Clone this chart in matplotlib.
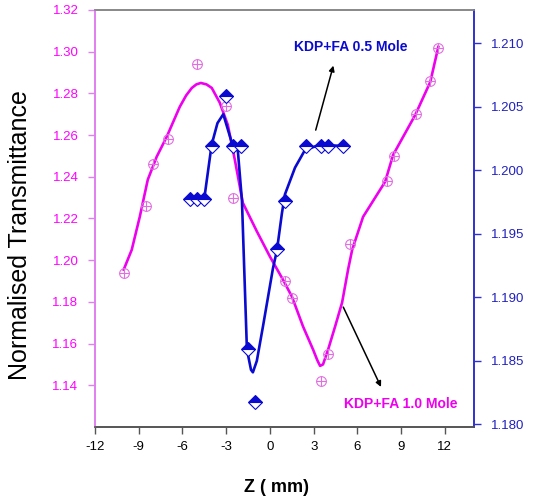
import matplotlib.pyplot as plt
import numpy as np

plt.rcParams['font.family'] = ['Liberation Sans', 'DejaVu Sans']
plt.rcParams['axes.unicode_minus'] = False

# KDP+FA 1.0 Mole (left axis) - measured points
z_10 = [-10.0, -8.5, -8.0, -7.0, -5.0, -3.0, -2.5, 1.0, 1.5, 3.5, 4.0, 5.5, 8.0, 8.5, 10.0, 11.0, 11.5]
t_10 = [1.194, 1.226, 1.246, 1.258, 1.294, 1.274, 1.230, 1.190, 1.182, 1.142, 1.155, 1.208,
        1.238, 1.250, 1.270, 1.286, 1.302]
# fitted curve
fit_z_10 = [-10.03, -9.48, -8.93, -8.38, -7.77, -7.08, -6.19, -5.75, -5.36, -5.05, -4.74, -4.35,
            -3.99, -3.44, -2.89, -2.41, -1.86, -0.89, 0.0, 0.89, 1.51, 2.27, 2.96, 3.25, 3.44,
            3.64, 3.99, 4.47, 4.95, 5.36, 5.64, 6.39, 7.90, 8.45, 9.97, 11.00, 11.55]
fit_t_10 = [1.1955, 1.2050, 1.2208, 1.2386, 1.2496, 1.2592, 1.2735, 1.2790, 1.2826, 1.2843,
            1.2850, 1.2843, 1.2826, 1.2755, 1.2649, 1.2482, 1.2275, 1.2137, 1.2017, 1.1907,
            1.1825, 1.1682, 1.1571, 1.1520, 1.1493, 1.1500, 1.1571, 1.1682, 1.1797, 1.1955,
            1.2050, 1.2208, 1.2376, 1.2505, 1.2697, 1.2855, 1.3023]

# KDP+FA 0.5 Mole (right axis)
z_05 = [-5.5, -5.0, -4.5, -4.0, -3.0, -2.5, -2.0, -1.5, -1.0, 0.5, 1.0, 2.5, 3.5, 4.0, 5.0]
t_05 = [1.1977, 1.1977, 1.1977, 1.2019, 1.2058, 1.2019, 1.2019, 1.1859, 1.1818, 1.1938,
        1.1976, 1.2019, 1.2019, 1.2019, 1.2019]
fit_z_05 = [-5.5, -4.5, -4.0, -3.6, -3.2, -2.6, -2.2, -1.92, -1.58, -1.3, -1.17, -0.9, -0.48,
            0.21, 0.48, 0.82, 1.03, 1.72, 2.41, 3.44, 5.02]
fit_t_05 = [1.1978, 1.1978, 1.2020, 1.2037, 1.2044, 1.2021, 1.2015, 1.1976, 1.1859, 1.1843,
            1.1841, 1.1850, 1.1877, 1.1923, 1.1937, 1.1966, 1.1981, 1.2002, 1.2016, 1.2020,
            1.2019]

MAG = '#ee00ee'
BLUE = '#0a0ad0'

fig = plt.figure(figsize=(5.38, 5.04), dpi=100)
ax = fig.add_axes([0.1766, 0.1528, 0.7045, 0.8274])
ax2 = ax.twinx()

# left axis: 1.0 Mole
ax.plot(fit_z_10, fit_t_10, color=MAG, lw=1.9, zorder=2)
ax.plot(z_10, t_10, ls='none', marker='o', ms=7, mfc='none', mec='#e070e0', mew=0.8, zorder=3)
ax.plot(z_10, t_10, ls='none', marker='+', ms=7, mec='#e070e0', mew=0.8, zorder=3)

# right axis: 0.5 Mole
ax2.plot(fit_z_05, fit_t_05, color=BLUE, lw=1.9, zorder=2)
ax2.plot(z_05, t_05, ls='none', marker='D', ms=7.5, fillstyle='top', mfc=BLUE,
         mfcalt='white', mec=BLUE, mew=0.8, zorder=3)

ax.set_xlim(-12, 14)
ax.set_ylim(1.12, 1.32)
ax2.set_ylim(1.1798, 1.2126)

ax.set_xticks(np.arange(-12, 13, 3))
ax.set_yticks(np.arange(1.14, 1.321, 0.02))
ax.set_yticklabels([f'{v:.2f}' for v in np.arange(1.14, 1.321, 0.02)])
ax2.set_yticks(np.arange(1.180, 1.2101, 0.005))
ax2.set_yticklabels([f'{v:.3f}' for v in np.arange(1.180, 1.2101, 0.005)])

ax.tick_params(axis='x', length=5, width=1, color='#555555', labelsize=9.5, pad=5)
ax.tick_params(axis='y', length=5, width=1, color='#e080f0', labelcolor='#ff00ff',
               labelsize=9.5, pad=7)
ax2.tick_params(axis='y', length=5, width=1, color='#3030d0', labelcolor='#2020c0',
                labelsize=9.5, pad=7)

for a in (ax, ax2):
    a.spines['top'].set_color('#888888')
    a.spines['bottom'].set_color('#555555')
    a.spines['left'].set_color('#e080f0')
    a.spines['right'].set_color('#3030d0')
    for s in a.spines.values():
        s.set_linewidth(1.2)

ax.set_ylabel('Normalised Transmittance', fontsize=18)
ax.yaxis.set_label_coords(-0.165, 0.46)
ax.set_xlabel('Z ( mm)', fontsize=13, fontweight='bold')
ax.xaxis.set_label_coords(0.48, -0.125)

ax.annotate('', xy=(4.4, 1.2946), xytext=(3.09, 1.2611),
            arrowprops=dict(arrowstyle='-|>', color='black', lw=1.1, mutation_scale=8))
ax.annotate('', xy=(7.7, 1.138), xytext=(4.95, 1.1787),
            arrowprops=dict(arrowstyle='-|>', color='black', lw=1.1, mutation_scale=8))
ax.text(5.57, 1.3023, 'KDP+FA 0.5 Mole', color=BLUE, fontsize=10, fontweight='bold',
        ha='center', va='center', family=['Liberation Sans Narrow', 'Liberation Sans'])
ax.text(9.0, 1.1308, 'KDP+FA 1.0 Mole', color=MAG, fontsize=10, fontweight='bold',
        ha='center', va='center', family=['Liberation Sans Narrow', 'Liberation Sans'])

plt.savefig('out.png', dpi=100)
